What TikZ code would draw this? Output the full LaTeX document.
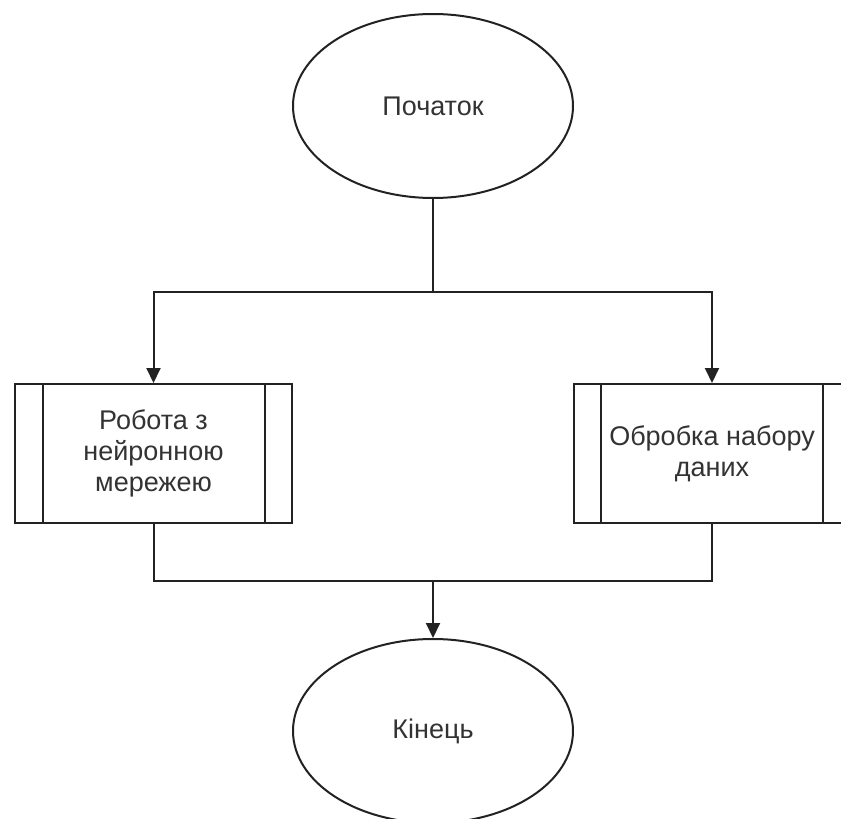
\documentclass[tikz,border=0pt]{standalone}
\usepackage{fontspec}
\setmainfont{Liberation Sans}
\usetikzlibrary{shapes.geometric,arrows.meta}
\definecolor{linecol}{HTML}{222222}
\definecolor{textcol}{HTML}{333333}
\tikzset{
  base/.style={draw=linecol, line width=2pt, fill=white, inner sep=0pt,
    align=center, text=textcol, font=\fontsize{27}{31}\selectfont},
  terminal/.style={base, ellipse, minimum width=280pt, minimum height=184pt},
  procbox/.style={base, rectangle, minimum width=277pt, minimum height=139pt,
    path picture={
      \draw[linecol, line width=2pt]
        ([xshift=27.5pt]path picture bounding box.north west) --
        ([xshift=27.5pt]path picture bounding box.south west);
      \draw[linecol, line width=2pt]
        ([xshift=-27.5pt]path picture bounding box.north east) --
        ([xshift=-27.5pt]path picture bounding box.south east);
    }},
  link/.style={draw=linecol, line width=2pt},
  flow/.style={link, -{Triangle[length=15pt, width=14pt]}}
}
\begin{document}
\begin{tikzpicture}[x=1pt, y=1pt]
  \useasboundingbox (0,0) rectangle (841,-819);
  \clip (0,0) rectangle (841,-819);

  \node[terminal] (start) at (433,-106) {Початок};
  \node[procbox] (nn) at (153.5,-453.5) {Робота з\\нейронною\\мережею};
  \node[procbox] (data) at (712,-453.5) {Обробка набору\\даних};
  \node[terminal] (end) at (433,-731) {Кінець};

  \coordinate (fork) at (433,-292);
  \coordinate (merge) at (433,-581);

  \draw[link] (start) -- (fork);
  \draw[flow] (fork) -| (nn.north);
  \draw[flow] (fork) -| (data.north);
  \draw[link] (nn.south) |- (merge);
  \draw[link] (data.south) |- (merge);
  \draw[flow] (merge) -- (end.north);
\end{tikzpicture}
\end{document}
